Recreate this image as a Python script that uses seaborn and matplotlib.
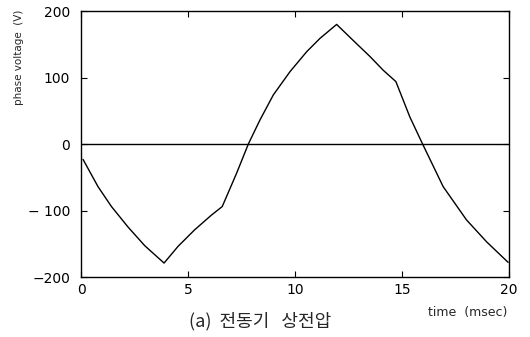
import matplotlib
matplotlib.use("Agg")
import matplotlib.pyplot as plt
import seaborn as sns
import pandas as pd

time_ms = [0.09, 0.79, 1.42, 2.2, 2.98, 3.88, 4.53, 5.31, 6.09, 6.6,
           7.27, 7.82, 8.36, 8.99, 9.77, 10.55, 11.17, 11.95,
           12.72, 13.5, 14.13, 14.72, 15.37, 15.97, 16.93, 18.02, 18.96, 19.97]
voltage = [-23, -64, -94, -125, -153, -179, -154, -129, -107, -94,
           -44, 0, 36, 74, 109, 139, 159, 180,
           156, 132, 111, 94, 41, 0, -64, -114, -147, -178]
x_ticks = [0, 5, 10, 15, 20]
y_ticks = [-200, -100, 0, 100, 200]
y_tick_labels = ["\u2212200", "\u2212 100", "0", "100", "200"]

sns.set_theme(style="ticks")
plt.rcParams['font.family'] = ['DejaVu Sans', 'Noto Sans CJK KR']

df = pd.DataFrame({"time": time_ms, "voltage": voltage})

fig = plt.figure(figsize=(5.30, 3.37), dpi=100)
ax = fig.add_axes([0.153, 0.178, 0.807, 0.789])
sns.lineplot(data=df, x="time", y="voltage", ax=ax, color="black", linewidth=1.0)
ax.axhline(0, color="black", linewidth=1.0)

ax.set_xlim(0, 20)
ax.set_ylim(-200, 200)
ax.set_xticks(x_ticks)
ax.set_yticks(y_ticks)
ax.set_yticklabels(y_tick_labels)
ax.tick_params(direction="in", top=True, right=True, length=4, width=0.8,
               labelsize=10, colors="black")
ax.tick_params(axis="y", pad=8)
ax.tick_params(axis="x", pad=4)
for s in ax.spines.values():
    s.set_color("black")
    s.set_linewidth(1.0)
ax.set_xlabel("")
ax.set_ylabel("phase voltage  (V)", fontsize=7.5)
ax.yaxis.set_label_coords(-0.133, 0.827)

fig.text(0.957, 0.074, "time  (msec)", ha="right", va="center", fontsize=9)
fig.text(0.49, 0.047, "(a)  전동기   상전압", ha="center", va="center", fontsize=13,
         family=['Noto Sans CJK KR', 'DejaVu Sans'])

fig.savefig("out.png", dpi=100, facecolor="white")
